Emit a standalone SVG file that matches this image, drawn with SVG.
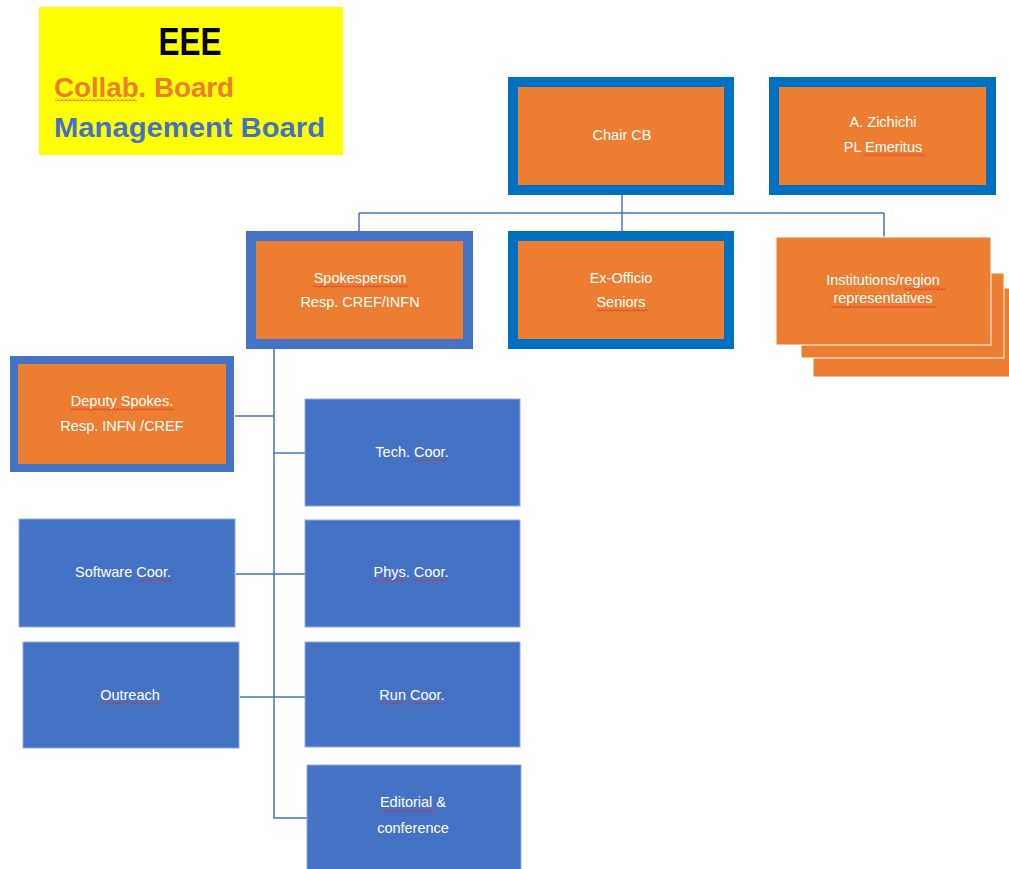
<svg xmlns="http://www.w3.org/2000/svg" width="1009" height="869" viewBox="0 0 1009 869">
<style>
.lbl{font-family:"Liberation Sans",Arial,sans-serif;font-size:14.5px;fill:#ffffff;text-anchor:middle}
.thk1{fill:#ED7D31;stroke:#0070C0;stroke-width:10}
.thk2{fill:#ED7D31;stroke:#4472C4;stroke-width:10}
.blue{fill:#4472C4;stroke:#8FAADC;stroke-width:1}
.stk{fill:#ED7D31;stroke:#ffffff;stroke-width:1}
.conn{fill:none;stroke:#4472C4;stroke-width:1.5}
.sq{fill:url(#squig)}
.hd{font-family:"Liberation Sans",Arial,sans-serif;font-weight:bold}
</style>
<defs>
<pattern id="squig" patternUnits="userSpaceOnUse" width="4" height="3">
<path d="M0,2.5 L2,0.5 L4,2.5" fill="none" stroke="#E0282E" stroke-width="0.9"/>
</pattern>
</defs>
<rect width="1009" height="869" fill="#ffffff"/>

<g id="legend">
<rect x="39" y="7" width="304" height="148" fill="#FFFF00"/>
<text class="hd" x="190" y="55" font-size="38" text-anchor="middle" textLength="63" lengthAdjust="spacingAndGlyphs" fill="#000000">EEE</text>
<text class="hd" x="54" y="97" font-size="28" textLength="180" lengthAdjust="spacingAndGlyphs" fill="#ED7D31">Collab. Board</text>
<rect class="sq" x="55" y="98.5" width="82" height="3"/>
<text class="hd" x="54" y="137" font-size="28" textLength="271" lengthAdjust="spacingAndGlyphs" fill="#4472C4">Management Board</text>
</g>

<g id="connectors">
<path class="conn" d="M622,195 V231"/>
<path class="conn" d="M359,213 H884"/>
<path class="conn" d="M359,213 V231"/>
<path class="conn" d="M884,213 V237" stroke="#8FAADC"/>
<path class="conn" d="M274,349 V818 H307"/>
<path class="conn" d="M235,416 H274"/>
<path class="conn" d="M274,453 H305"/>
<path class="conn" d="M236,574 H305"/>
<path class="conn" d="M240,697 H305"/>
</g>

<g id="chair-cb">
<rect class="thk1" x="513" y="82" width="216" height="108"/>
<text class="lbl" x="622" y="140">Chair CB</text>
</g>

<g id="zichichi">
<rect class="thk1" x="774" y="82" width="217" height="108"/>
<text class="lbl" x="883" y="127">A. Zichichi</text>
<text class="lbl" x="883" y="152">PL Emeritus</text>
<rect class="sq" x="863" y="154" width="63" height="3"/>
</g>

<g id="spokesperson">
<rect class="thk2" x="251" y="236" width="217" height="108"/>
<text class="lbl" x="360" y="283">Spokesperson</text>
<rect class="sq" x="313" y="285" width="95" height="3"/>
<text class="lbl" x="360" y="307">Resp. CREF/INFN</text>
</g>

<g id="ex-officio">
<rect class="thk1" x="513" y="236" width="216" height="108"/>
<text class="lbl" x="621" y="283">Ex-Officio</text>
<text class="lbl" x="621" y="307">Seniors</text>
<rect class="sq" x="596" y="309" width="52" height="3"/>
</g>

<g id="institutions">
<rect class="stk" x="813" y="288" width="200" height="89"/>
<rect class="stk" x="801" y="273" width="203" height="85"/>
<rect class="stk" x="776" y="237" width="215" height="108"/>
<text class="lbl" x="883" y="285">Institutions/region</text>
<rect class="sq" x="904" y="287" width="42" height="3"/>
<text class="lbl" x="883" y="303">representatives</text>
<rect class="sq" x="831" y="305" width="105" height="3"/>
</g>

<g id="deputy">
<rect fill="#ED7D31" stroke="#4472C4" stroke-width="8" x="14" y="360" width="216" height="108"/>
<text class="lbl" x="122" y="406">Deputy Spokes.</text>
<rect class="sq" x="70" y="408" width="104" height="3"/>
<text class="lbl" x="122" y="431">Resp. INFN /CREF</text>
</g>

<g id="tech-coor">
<rect class="blue" x="305" y="399" width="215" height="107"/>
<text class="lbl" x="412" y="457">Tech. Coor.</text>
<rect class="sq" x="415" y="459" width="31" height="3"/>
</g>

<g id="software-coor">
<rect class="blue" x="19" y="519" width="216" height="108"/>
<text class="lbl" x="123" y="577">Software Coor.</text>
<rect class="sq" x="140" y="579" width="32" height="3"/>
</g>

<g id="phys-coor">
<rect class="blue" x="305" y="520" width="215" height="107"/>
<text class="lbl" x="411" y="577">Phys. Coor.</text>
<rect class="sq" x="375" y="579" width="32" height="3"/>
<rect class="sq" x="414" y="579" width="32" height="3"/>
</g>

<g id="outreach">
<rect class="blue" x="23" y="642" width="216" height="106"/>
<text class="lbl" x="130" y="700">Outreach</text>
<rect class="sq" x="99" y="702" width="63" height="3"/>
</g>

<g id="run-coor">
<rect class="blue" x="305" y="642" width="215" height="105"/>
<text class="lbl" x="412" y="700">Run Coor.</text>
<rect class="sq" x="379" y="702" width="26" height="3"/>
<rect class="sq" x="410" y="702" width="31" height="3"/>
</g>

<g id="editorial">
<rect class="blue" x="307" y="765" width="214" height="110"/>
<text class="lbl" x="413" y="807">Editorial &amp;</text>
<rect class="sq" x="378" y="809" width="59" height="3"/>
<text class="lbl" x="413" y="833">conference</text>
</g>
</svg>
